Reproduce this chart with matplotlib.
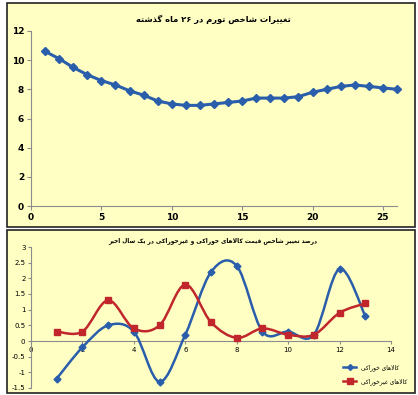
import re
import numpy as np
import matplotlib
matplotlib.use('Agg')
import matplotlib.pyplot as plt
from matplotlib.patches import Rectangle, PathPatch
from matplotlib.path import Path
from matplotlib.ticker import FuncFormatter

# data
months = list(range(1, 27))
inflation = [10.6, 10.1, 9.5, 9.0, 8.6, 8.3, 7.9, 7.6, 7.2, 7.0, 6.9, 6.9, 7.0,
             7.1, 7.2, 7.4, 7.4, 7.4, 7.5, 7.8, 8.0, 8.2, 8.3, 8.2, 8.1, 8.0]

periods = list(range(1, 14))
food = [-1.2, -0.2, 0.5, 0.3, -1.3, 0.2, 2.2, 2.4, 0.3, 0.3, 0.2, 2.3, 0.8]
nonfood = [0.3, 0.3, 1.3, 0.4, 0.5, 1.8, 0.6, 0.1, 0.4, 0.2, 0.2, 0.9, 1.2]

title_top = 'تغییرات شاخص تورم در ۲۶ ماه گذشته'
title_bottom = 'درصد تغییر شاخص قیمت کالاهای خوراکی و غیرخوراکی در یک سال اخیر'
label_food = 'کالاهای خوراکی'
label_nonfood = 'کالاهای غیرخوراکی'

# simple arabic shaping (matplotlib has no bidi / shaping)
FORMS = {
    'ا': ('\uFE8D', '\uFE8E', None, None),
    'ب': ('\uFE8F', '\uFE90', '\uFE91', '\uFE92'),
    'ت': ('\uFE95', '\uFE96', '\uFE97', '\uFE98'),
    'خ': ('\uFEA5', '\uFEA6', '\uFEA7', '\uFEA8'),
    'د': ('\uFEA9', '\uFEAA', None, None),
    'ذ': ('\uFEAB', '\uFEAC', None, None),
    'ر': ('\uFEAD', '\uFEAE', None, None),
    'س': ('\uFEB1', '\uFEB2', '\uFEB3', '\uFEB4'),
    'ش': ('\uFEB5', '\uFEB6', '\uFEB7', '\uFEB8'),
    'ص': ('\uFEB9', '\uFEBA', '\uFEBB', '\uFEBC'),
    'غ': ('\uFECD', '\uFECE', '\uFECF', '\uFED0'),
    'ق': ('\uFED5', '\uFED6', '\uFED7', '\uFED8'),
    'ل': ('\uFEDD', '\uFEDE', '\uFEDF', '\uFEE0'),
    'م': ('\uFEE1', '\uFEE2', '\uFEE3', '\uFEE4'),
    'ه': ('\uFEE9', '\uFEEA', '\uFEEB', '\uFEEC'),
    'و': ('\uFEED', '\uFEEE', None, None),
    'ک': ('\uFB8E', '\uFB8F', '\uFB90', '\uFB91'),
    'گ': ('\uFB92', '\uFB93', '\uFB94', '\uFB95'),
    'ی': ('\uFBFC', '\uFBFD', '\uFBFE', '\uFBFF'),
}


def shape(text):
    out = []
    i = 0
    n = len(text)
    while i < n:
        c = text[i]
        if c not in FORMS:
            out.append(c)
            i += 1
            continue
        prev = text[i - 1] if i > 0 else ''
        prev_joins = prev in FORMS and FORMS[prev][2] is not None
        nxt = text[i + 1] if i + 1 < n else ''
        if c == 'ل' and nxt == 'ا':
            out.append('\uFEFC' if prev_joins else '\uFEFB')
            i += 2
            continue
        dual = FORMS[c][2] is not None
        next_joins = dual and nxt in FORMS
        iso, fin, ini, med = FORMS[c]
        if prev_joins and next_joins:
            out.append(med)
        elif prev_joins:
            out.append(fin)
        elif next_joins:
            out.append(ini)
        else:
            out.append(iso)
        i += 1
    s = ''.join(out)[::-1]
    # digits keep left-to-right order
    return re.sub('[0-9\u06F0-\u06F9]+', lambda m: m.group(0)[::-1], s)


def smooth_path(xs, ys):
    # excel-like smoothed line: bezier with control points from neighbours
    pts = np.column_stack([xs, ys]).astype(float)
    verts = [pts[0]]
    codes = [Path.MOVETO]
    for i in range(len(pts) - 1):
        p0 = pts[i - 1] if i > 0 else pts[i]
        p1 = pts[i]
        p2 = pts[i + 1]
        p3 = pts[i + 2] if i + 2 < len(pts) else pts[i + 1]
        verts += [p1 + (p2 - p0) / 6, p2 - (p3 - p1) / 6, p2]
        codes += [Path.CURVE4] * 3
    return Path(verts, codes)


plt.rcParams['font.family'] = ['DejaVu Sans']
bg = '#FFFFC4'
blue = '#2A5EAB'
red = '#C0262C'
spine_col = '#8C8C8C'

W, H = 418, 395
fig = plt.figure(figsize=(W / 100, H / 100), dpi=100)
fig.patch.set_facecolor('white')


def px_rect(x0, y0, x1, y1):
    return [x0 / W, 1 - y1 / H, (x1 - x0) / W, (y1 - y0) / H]


for (x0, y0, x1, y1) in [(7, 3, 415, 227), (7, 230, 415, 393)]:
    r = px_rect(x0, y0, x1, y1)
    fig.patches.append(Rectangle((r[0], r[1]), r[2], r[3], transform=fig.transFigure,
                                 facecolor=bg, edgecolor='#222222', lw=1.2, zorder=-5))

# top chart
ax1 = fig.add_axes(px_rect(31, 31, 397, 206))
ax1.set_facecolor('none')
ax1.plot(months, inflation, color=blue, lw=2.2, marker='D', ms=4.5, clip_on=False)
ax1.set_xlim(0, 26)
ax1.set_ylim(0, 12)
ax1.set_xticks(range(0, 26, 5))
ax1.set_yticks(range(0, 13, 2))
for s in ['top', 'right']:
    ax1.spines[s].set_visible(False)
for s in ['left', 'bottom']:
    ax1.spines[s].set_color(spine_col)
    ax1.spines[s].set_linewidth(0.8)
ax1.tick_params(length=3, width=0.8, color=spine_col, labelsize=6.5, pad=2)
for lab in ax1.get_xticklabels() + ax1.get_yticklabels():
    lab.set_fontweight('bold')
fig.text(213 / W, 1 - 19 / H, shape(title_top), ha='center', va='center',
         fontsize=6, fontweight='bold')

# bottom chart
ax2 = fig.add_axes(px_rect(31, 247, 391, 388))
ax2.set_facecolor('none')
ax2.set_xlim(0, 14)
ax2.set_ylim(-1.5, 3)
ax2.set_xticks(range(0, 15, 2))
ax2.set_yticks(np.arange(-1.5, 3.01, 0.5))
ax2.yaxis.set_major_formatter(FuncFormatter(lambda v, p: '%g' % v))
for s in ['top', 'right']:
    ax2.spines[s].set_visible(False)
ax2.spines['bottom'].set_position(('data', 0))
for s in ['left', 'bottom']:
    ax2.spines[s].set_color(spine_col)
    ax2.spines[s].set_linewidth(0.8)
ax2.tick_params(length=2.5, width=0.8, color=spine_col, labelsize=5, pad=1.5)

ax2.add_patch(PathPatch(smooth_path(periods, food), facecolor='none', edgecolor=blue,
                        lw=1.8, zorder=3))
ax2.add_patch(PathPatch(smooth_path(periods, nonfood), facecolor='none', edgecolor=red,
                        lw=1.8, zorder=3))
ax2.plot(periods, food, ls='none', marker='D', ms=3.5, color=blue, zorder=4)
ax2.plot(periods, nonfood, ls='none', marker='s', ms=4.5, color=red, zorder=4)
h1 = plt.Line2D([], [], color=blue, lw=1.8, marker='D', ms=3)
h2 = plt.Line2D([], [], color=red, lw=1.8, marker='s', ms=4)
fig.legend([h1, h2], [shape(label_food), shape(label_nonfood)], loc='lower right',
           bbox_to_anchor=(412 / W, 1 - 390 / H), frameon=False, fontsize=4.2,
           handlelength=2.2, labelspacing=1.2)
fig.text(213 / W, 1 - 241 / H, shape(title_bottom), ha='center', va='center',
         fontsize=4.2, fontweight='bold')

fig.savefig('out.png', dpi=100)
